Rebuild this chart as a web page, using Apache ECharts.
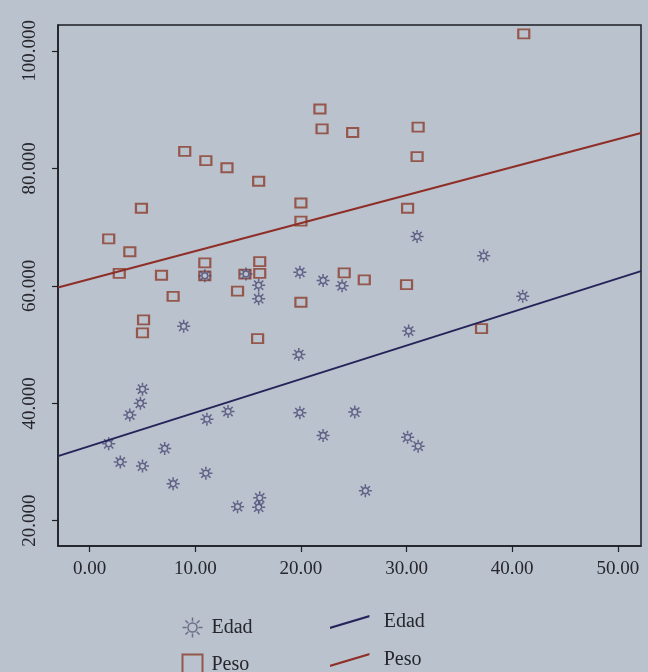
<!DOCTYPE html>
<html>
<head>
<meta charset="utf-8">
<script src="https://cdn.jsdelivr.net/npm/echarts@6/dist/echarts.min.js"></script>
<style>
  html, body { margin: 0; padding: 0; background: #bac2cd; }
  #chart { width: 648px; height: 672px; }
</style>
</head>
<body>
<div id="chart"></div>
<script>
// valores
const edadX = [1.8, 2.9, 5.0, 3.8, 4.8, 5.0, 7.1, 7.9, 11.1, 11.0, 13.1, 14.0, 16.1, 16.0, 19.9, 22.1, 25.1,
  19.8, 8.9, 16.0, 16.0, 19.9, 22.1, 23.9, 31.0, 37.3, 30.2, 41.0, 30.1, 31.1, 26.1, 10.9, 14.8];
const edadY = [33.1, 30.0, 29.3, 38.0, 40.0, 42.4, 32.3, 26.3, 37.3, 28.1, 38.6, 22.4, 23.9, 22.3, 38.4, 34.5, 38.5,
  48.3, 53.1, 60.1, 57.8, 62.3, 60.9, 60.0, 68.4, 65.1, 52.3, 58.2, 34.2, 32.7, 25.1, 61.7, 62.0];

const pesoX = [41.1, 21.8, 22.0, 24.9, 31.1, 31.0, 9.0, 11.0, 13.0, 16.0, 20.0, 20.0, 30.1, 4.9, 1.8, 3.8, 2.8,
  6.8, 7.9, 5.1, 5.0, 10.9, 10.9, 14.7, 16.1, 16.1, 14.0, 15.9, 20.0, 24.1, 26.0, 30.0, 37.1];
const pesoY = [102.9, 90.1, 86.7, 86.1, 87.0, 82.0, 82.9, 81.3, 80.1, 77.8, 74.1, 71.0, 73.2, 73.2, 68.0, 65.8, 62.1,
  61.8, 58.2, 54.2, 52.0, 63.9, 61.7, 62.0, 64.1, 62.1, 59.1, 51.0, 57.2, 62.2, 61.0, 60.2, 52.7];

// rectas de ajuste (extremos en el borde del gráfico)
const fitX = [-3, 52.2];
const edadFitY = [31.0, 62.5];
const pesoFitY = [59.7, 86.0];

const xTicks = [0, 10, 20, 30, 40, 50];
const yTicks = [20, 40, 60, 80, 100];

const STAR = 'path://M17,12 A5,5 0 1,1 7,12 A5,5 0 1,1 17,12 Z' +
  ' M18.5,12 L23,12 M5.5,12 L1,12 M12,18.5 L12,23 M12,5.5 L12,1' +
  ' M16.6,16.6 L19.8,19.8 M7.4,7.4 L4.2,4.2 M16.6,7.4 L19.8,4.2 M7.4,16.6 L4.2,19.8';
// trazo inclinado como en la leyenda original
const SLANT = 'path://M0,12 L40,0 L40,2.2 L0,14.2 Z';

const FONT = 'Liberation Serif';
const INK = '#26262c';
const AXIS = '#1e1e24';
const BLUE = '#4a4874';
const BROWN = '#8c3c2c';
const NAVY = '#25235a';
const RED = '#8e2e26';

const zip = (xs, ys) => xs.map((x, i) => [x, ys[i]]);

const chart = echarts.init(document.getElementById('chart'));

chart.setOption({
  backgroundColor: '#bac2cd',
  animation: false,
  grid: {
    left: 58, right: 7, top: 25, bottom: 126,
    show: true, borderColor: AXIS, borderWidth: 1.5
  },
  legend: [
    {
      left: 180, top: 615, height: 70, orient: 'vertical', itemGap: 12, padding: 0,
      itemWidth: 20, itemHeight: 20,
      textStyle: { fontFamily: FONT, fontSize: 20, lineHeight: 20, color: INK, padding: [0, 0, 0, 4] },
      data: [
        { name: 'Edad', icon: STAR, itemStyle: { color: 'none', borderColor: '#5a5878', borderWidth: 1.5 } },
        { name: 'Peso', icon: 'rect', itemStyle: { color: 'none', borderColor: BROWN, borderWidth: 2 } }
      ]
    },
    {
      left: 330, top: 612, height: 70, orient: 'vertical', itemGap: 18, padding: 0,
      itemWidth: 42, itemHeight: 14,
      formatter: n => n.replace('_ajuste', ''),
      textStyle: { fontFamily: FONT, fontSize: 20, lineHeight: 20, color: INK, padding: [0, 0, 0, 8] },
      data: [
        { name: 'Edad_ajuste', icon: SLANT, itemStyle: { color: NAVY, borderWidth: 0 } },
        { name: 'Peso_ajuste', icon: SLANT, itemStyle: { color: RED, borderWidth: 0 } }
      ]
    }
  ],
  xAxis: {
    type: 'value', min: -3, max: 52.2,
    splitLine: { show: false },
    axisLine: { onZero: false, lineStyle: { color: AXIS, width: 1.5 } },
    axisTick: { customValues: xTicks, length: 6, lineStyle: { color: AXIS, width: 1.2 } },
    axisLabel: {
      customValues: xTicks, margin: 14,
      formatter: v => v.toFixed(2),
      fontFamily: FONT, fontSize: 19, color: INK
    }
  },
  yAxis: {
    type: 'value', min: 15.7, max: 104.4,
    splitLine: { show: false },
    axisLine: { onZero: false, lineStyle: { color: AXIS, width: 1.5 } },
    axisTick: { customValues: yTicks, length: 6, lineStyle: { color: AXIS, width: 1.2 } },
    axisLabel: {
      customValues: yTicks, rotate: 90, margin: 18,
      formatter: v => v.toFixed(3),
      fontFamily: FONT, fontSize: 19, color: INK
    }
  },
  series: [
    {
      name: 'Peso', type: 'scatter', symbol: 'rect', symbolSize: [11, 9],
      itemStyle: { color: 'none', borderColor: BROWN, borderWidth: 2 },
      data: zip(pesoX, pesoY)
    },
    {
      name: 'Edad', type: 'scatter', symbol: STAR, symbolSize: 13,
      itemStyle: { color: 'none', borderColor: BLUE, borderWidth: 1.5 },
      data: zip(edadX, edadY)
    },
    {
      name: 'Edad_ajuste', type: 'line', symbol: 'none',
      lineStyle: { color: NAVY, width: 2 },
      itemStyle: { color: NAVY },
      data: zip(fitX, edadFitY)
    },
    {
      name: 'Peso_ajuste', type: 'line', symbol: 'none',
      lineStyle: { color: RED, width: 2 },
      itemStyle: { color: RED },
      data: zip(fitX, pesoFitY)
    }
  ]
});
</script>
</body>
</html>
